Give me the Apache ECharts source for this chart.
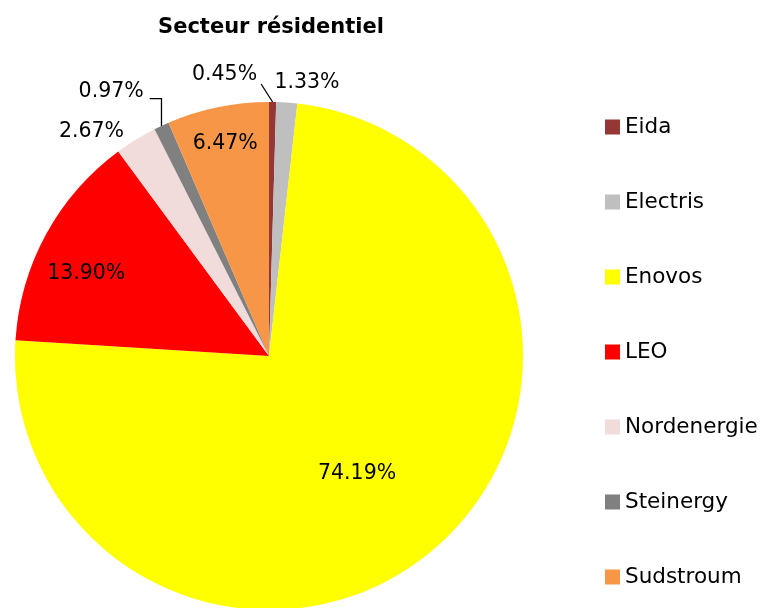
<!DOCTYPE html>
<html>
<head>
<meta charset="utf-8">
<script src="https://cdn.jsdelivr.net/npm/echarts@6/dist/echarts.min.js"></script>
<style>
html,body{margin:0;padding:0;background:#fff;}
#chart{width:764px;height:608px;}
</style>
</head>
<body>
<div id="chart"></div>
<script>
// données
var names = ['Eida', 'Electris', 'Enovos', 'LEO', 'Nordenergie', 'Steinergy', 'Sudstroum'];
var shares = [0.45, 1.33, 74.19, 13.90, 2.67, 0.97, 6.47];
var colors = ['#953735', '#BFBFBF', '#FFFF00', '#FF0000', '#F2DCDB', '#808080', '#F79646'];

// placement des étiquettes (décalage d'angle en degrés, rayon relatif)
var labelShift = [-9.8, 3.9, 3.3, -4.2, -6.8, -5.8, 0];
var labelRadius = [1.12, 1.085, 0.58, 0.79, 1.125, 1.212, 0.853];
var outsideIdx = [0, 1, 4, 5];
var lineIdx = [0, 5];

var cx = 269, cy = 356, R = 254;
var FONT = 'DejaVu Sans';

// angle milieu de chaque part
var total = 0;
for (var i = 0; i < shares.length; i++) total += shares[i];
var midAngles = [];
var acc = 0;
for (var i = 0; i < shares.length; i++) {
	midAngles.push((acc + shares[i] / 2) / total * 360);
	acc += shares[i];
}

function polar(angle, r) {
	var rad = angle * Math.PI / 180;
	return [cx + r * Math.sin(rad), cy - r * Math.cos(rad)];
}

var pieData = [];
for (var i = 0; i < names.length; i++) {
	var outside = outsideIdx.indexOf(i) != -1;
	pieData.push({
		name: names[i],
		value: shares[i],
		itemStyle: { color: colors[i] },
		label: { position: outside ? 'outside' : 'inside' },
		labelLine: { show: lineIdx.indexOf(i) != -1 }
	});
}

var Chart1 = echarts.init(document.getElementById('chart'));
Chart1.setOption({
	animation: false,
	backgroundColor: '#fff',
	title: {
		text: 'Secteur résidentiel',
		left: 266,
		textAlign: 'center',
		top: 12,
		textStyle: { fontFamily: FONT, fontWeight: 'bold', fontSize: 21, color: '#000' }
	},
	legend: {
		orient: 'vertical',
		left: 600,
		top: 111,
		itemGap: 53,
		itemWidth: 15,
		itemHeight: 15,
		icon: 'rect',
		data: names,
		textStyle: { fontFamily: FONT, fontSize: 21.5, color: '#000', lineHeight: 22 }
	},
	series: [{
		type: 'pie',
		center: [cx, cy],
		radius: R,
		startAngle: 90,
		clockwise: true,
		avoidLabelOverlap: false,
		emphasis: { disabled: true },
		label: {
			show: true,
			fontFamily: FONT,
			fontSize: 20.5,
			color: '#000',
			formatter: function (p) { return p.value.toFixed(2) + '%'; }
		},
		labelLine: {
			length: 10,
			length2: 10,
			lineStyle: { color: '#000', width: 1.3 }
		},
		labelLayout: function (p) {
			var i = p.dataIndex;
			var pos = polar(midAngles[i] + labelShift[i], R * labelRadius[i]);
			var out = { x: pos[0], y: pos[1], align: 'center', verticalAlign: 'middle' };
			var halfW = p.labelRect.width / 2;
			var edge = polar(midAngles[i], R);
			if (i === 0) {
				out.labelLinePoints = [edge, [pos[0] + halfW + 4, pos[1] + 9], [pos[0] + halfW + 4, pos[1] + 9]];
			}
			if (i === 5) {
				out.labelLinePoints = [edge, [edge[0], pos[1] + 7], [pos[0] + halfW + 6, pos[1] + 7]];
			}
			return out;
		},
		data: pieData
	}]
});
</script>
</body>
</html>
